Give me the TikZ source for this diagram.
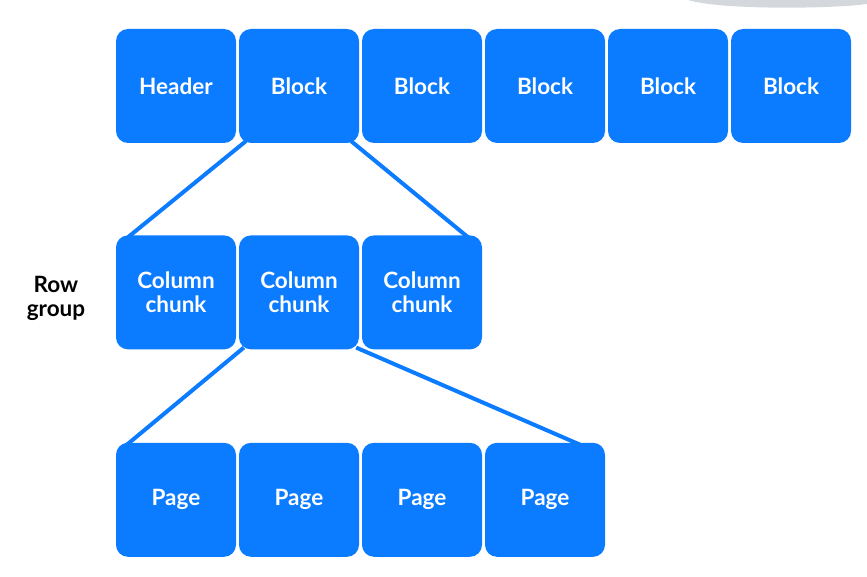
\documentclass[tikz,border=0pt]{standalone}
\usepackage{fontspec}
\setmainfont{Lato}
\usetikzlibrary{positioning,calc}
\definecolor{CellBlue}{HTML}{0B7BFF}
\definecolor{EdgeGrey}{HTML}{B8BEC6}
\tikzset{
  cell/.style={rectangle, rounded corners=12pt, fill=CellBlue, draw=none,
    minimum width=120pt, minimum height=114pt, inner sep=0pt,
    align=center, text=white, font=\fontsize{22.5}{24}\selectfont\bfseries},
  label/.style={align=center, text=black, font=\fontsize{22.5}{24}\selectfont\bfseries},
  link/.style={draw=CellBlue, line width=4pt}
}
\begin{document}
\begin{tikzpicture}[x=1pt, y=-1pt, node distance=92pt and 2.6pt]

\useasboundingbox (0,0) rectangle (867,577);
\fill[EdgeGrey!60] (688,0) .. controls (720,10) and (830,9) .. (867,4) -- (867,0) -- cycle;

% file level
\node[cell] (header) at (176,86) {Header};
\node[cell, right=of header] (blk1) {Block};
\node[cell, right=of blk1] (blk2) {Block};
\node[cell, right=of blk2] (blk3) {Block};
\node[cell, right=of blk3] (blk4) {Block};
\node[cell, right=of blk4] (blk5) {Block};

% row group level
\node[cell, below=of header] (chunk1) {Column\\chunk};
\node[cell, right=of chunk1] (chunk2) {Column\\chunk};
\node[cell, right=of chunk2] (chunk3) {Column\\chunk};
\node[label] (rowgroup) at (56,298) {Row\\group};

% page level
\node[cell, below=93pt of chunk1] (page1) {Page};
\node[cell, right=of page1] (page2) {Page};
\node[cell, right=of page2] (page3) {Page};
\node[cell, right=of page3] (page4) {Page};

\draw[link] ($(blk1.south west)+(7,-2)$)    -- ($(chunk1.north west)+(11,3)$);
\draw[link] ($(blk1.south east)+(-8,-2)$)   -- ($(chunk3.north east)+(-13,3)$);
\draw[link] ($(chunk2.south west)+(5,-2)$)  -- ($(page1.north west)+(10,3)$);
\draw[link] ($(chunk2.south east)+(-3,-2)$) -- ($(page4.north east)+(-23,3)$);

\end{tikzpicture}
\end{document}
